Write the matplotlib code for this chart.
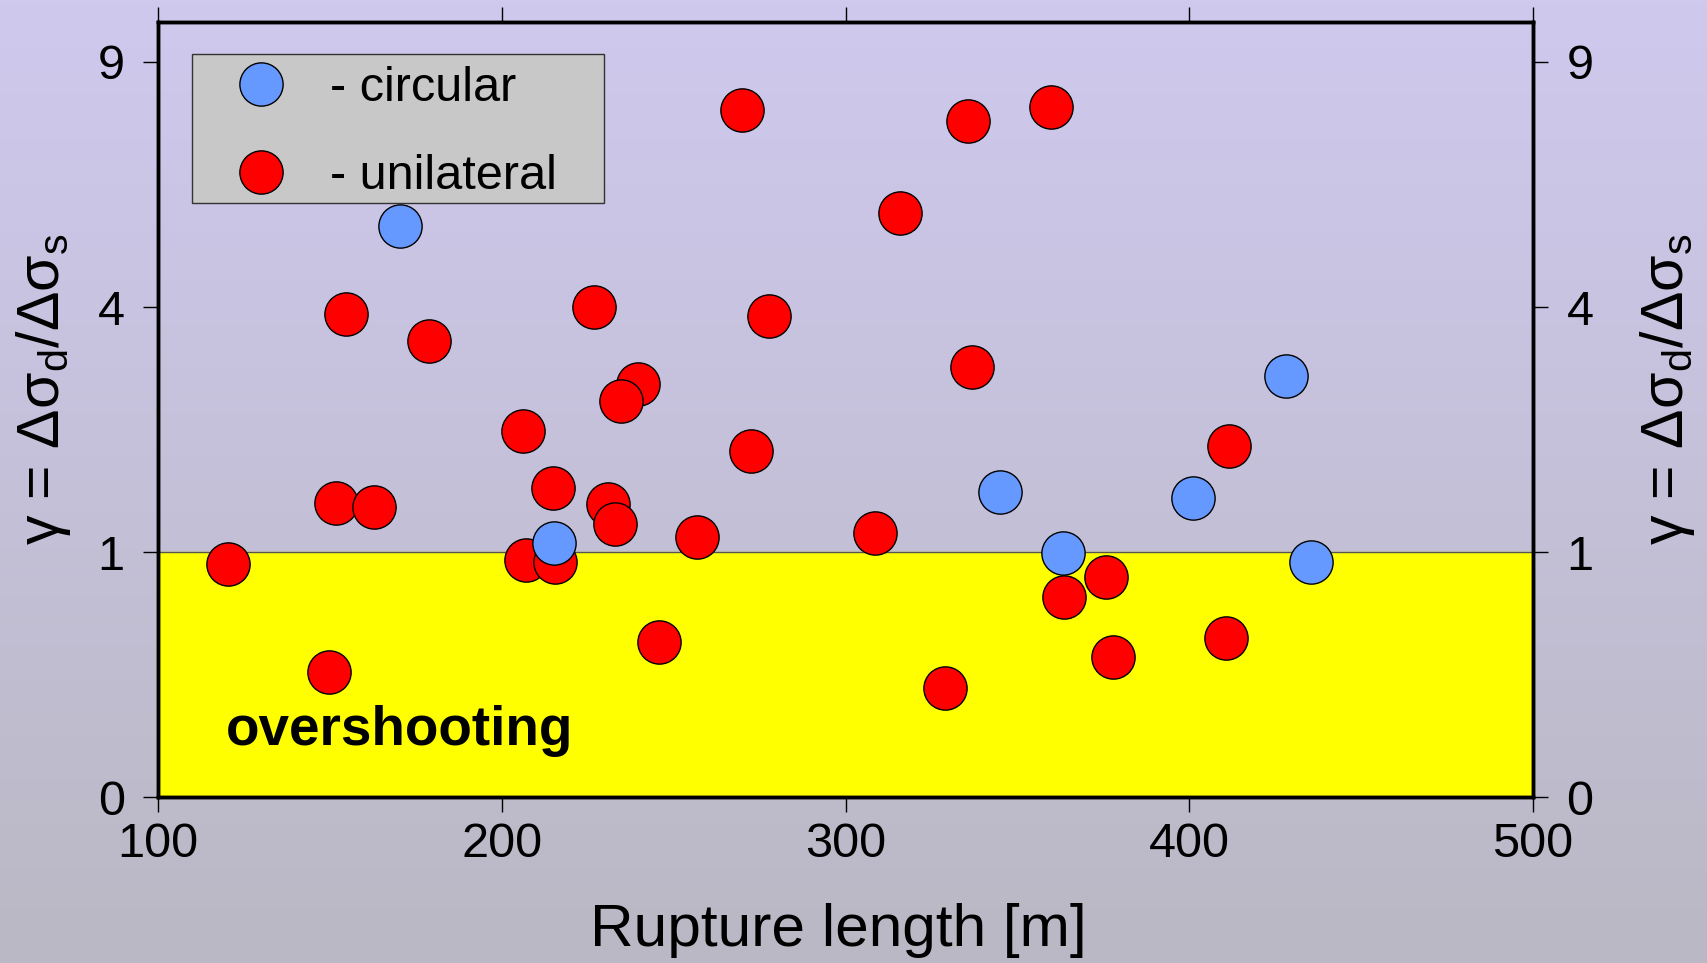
import numpy as np
import matplotlib.pyplot as plt
from matplotlib.patches import Rectangle

plt.rcParams['font.family'] = ['Liberation Sans', 'DejaVu Sans']

# circular ruptures
circ_len = [170.3, 215.3, 344.8, 363.2, 401.2, 428.1, 435.4]
circ_gamma = [5.44, 1.08, 1.55, 0.99, 1.49, 2.96, 0.92]

# unilateral ruptures
uni_len = [120.3, 149.7, 151.9, 154.8, 162.7, 178.9, 206.1, 207.0, 215.0, 215.6,
           226.7, 230.8, 233.0, 239.7, 234.6, 245.7, 256.8, 269.8, 272.6, 277.7,
           308.7, 315.7, 329.0, 335.6, 336.9, 359.7, 363.5, 375.8, 377.7, 410.7, 411.6]
uni_gamma = [0.91, 0.26, 1.44, 3.88, 1.40, 3.47, 2.23, 0.94, 1.59, 0.92,
             4.00, 1.43, 1.24, 2.85, 2.62, 0.40, 1.13, 7.87, 2.00, 3.86,
             1.16, 5.68, 0.20, 7.62, 3.08, 7.94, 0.67, 0.81, 0.33, 0.42, 2.06]

yticks = [0, 1, 4, 9]
xticks = [100, 200, 300, 400, 500]
legend_labels = ['- circular', '- unilateral']
legend_colors = ['#6699ff', '#ff0000']

fig = plt.figure(figsize=(17.07, 9.63), dpi=100)

# background gradient
bg = fig.add_axes([0, 0, 1, 1], zorder=-10)
grad = np.linspace(0, 1, 256)[:, None]
top = np.array([207, 201, 238]) / 255
bot = np.array([186, 184, 196]) / 255
img = top[None, None, :] * (1 - grad[:, :, None]) + bot[None, None, :] * grad[:, :, None]
bg.imshow(img, aspect='auto', extent=[0, 1, 0, 1])
bg.axis('off')

ax = fig.add_axes([0.0926, 0.172, 0.8055, 0.805])
ax.patch.set_alpha(0)
sq = (lambda v: np.sqrt(np.clip(v, 0, None)), lambda v: np.asarray(v) ** 2)
ax.set_yscale('function', functions=sq)
ax.set_xlim(100, 500)
ax.set_ylim(0, 10)

# overshooting region
ax.fill_between([100, 500], 0, 1, color='#ffff00', zorder=1)
ax.axhline(1, color='#555555', lw=1, zorder=1.5)
ax.text(119.8, 0.045, 'overshooting', fontsize=39.5, fontweight='bold', zorder=2)

ax.scatter(uni_len, uni_gamma, s=970, c='#ff0000', edgecolors='black', linewidths=1,
           zorder=3)
ax.scatter(circ_len, circ_gamma, s=970, c='#6699ff', edgecolors='black', linewidths=1,
           zorder=4)

# legend box
ax.add_patch(Rectangle((0.0244, 0.767), 0.30, 0.1917, transform=ax.transAxes,
                       facecolor='#c8c8c8', edgecolor='#333333', lw=1, zorder=5))
for i, (lab, col) in enumerate(zip(legend_labels, legend_colors)):
    yy = 0.92 - i * 0.1135
    ax.scatter([0.0749], [yy], s=970, c=col, edgecolors='black', linewidths=1,
               transform=ax.transAxes, zorder=6, clip_on=False)
    ax.text(0.125, yy - 0.006, lab, fontsize=35, va='center', ha='left',
            transform=ax.transAxes, zorder=6)

ax.set_xticks(xticks)
ax.set_yticks(yticks)
ax.set_yticklabels([str(t) for t in yticks])
ax.tick_params(axis='both', direction='out', length=11, width=1, labelsize=35)
ax.tick_params(axis='x', top=True, pad=7)
ax.tick_params(axis='y', pad=13)
for s in ax.spines.values():
    s.set_linewidth(2.5)

ylab = 'γ = Δσ$_\\mathregular{d}$/Δσ$_\\mathregular{s}$'
ax.set_xlabel('Rupture length [m]', fontsize=43.5)
ax.xaxis.set_label_coords(0.4945, -0.1365)
ax.set_ylabel(ylab, fontsize=42.5)
ax.yaxis.set_label_coords(-0.062, 0.526)

ax2 = ax.twinx()
ax2.set_yscale('function', functions=sq)
ax2.set_ylim(0, 10)
ax2.set_yticks(yticks)
ax2.set_yticklabels([str(t) for t in yticks])
ax2.tick_params(axis='y', direction='out', length=11, width=1, labelsize=35, pad=13)
ax2.set_ylabel(ylab, fontsize=42.5)
ax2.yaxis.set_label_coords(1.076, 0.526)
for s in ax2.spines.values():
    s.set_linewidth(2.5)

fig.savefig('out.png', dpi=100)
